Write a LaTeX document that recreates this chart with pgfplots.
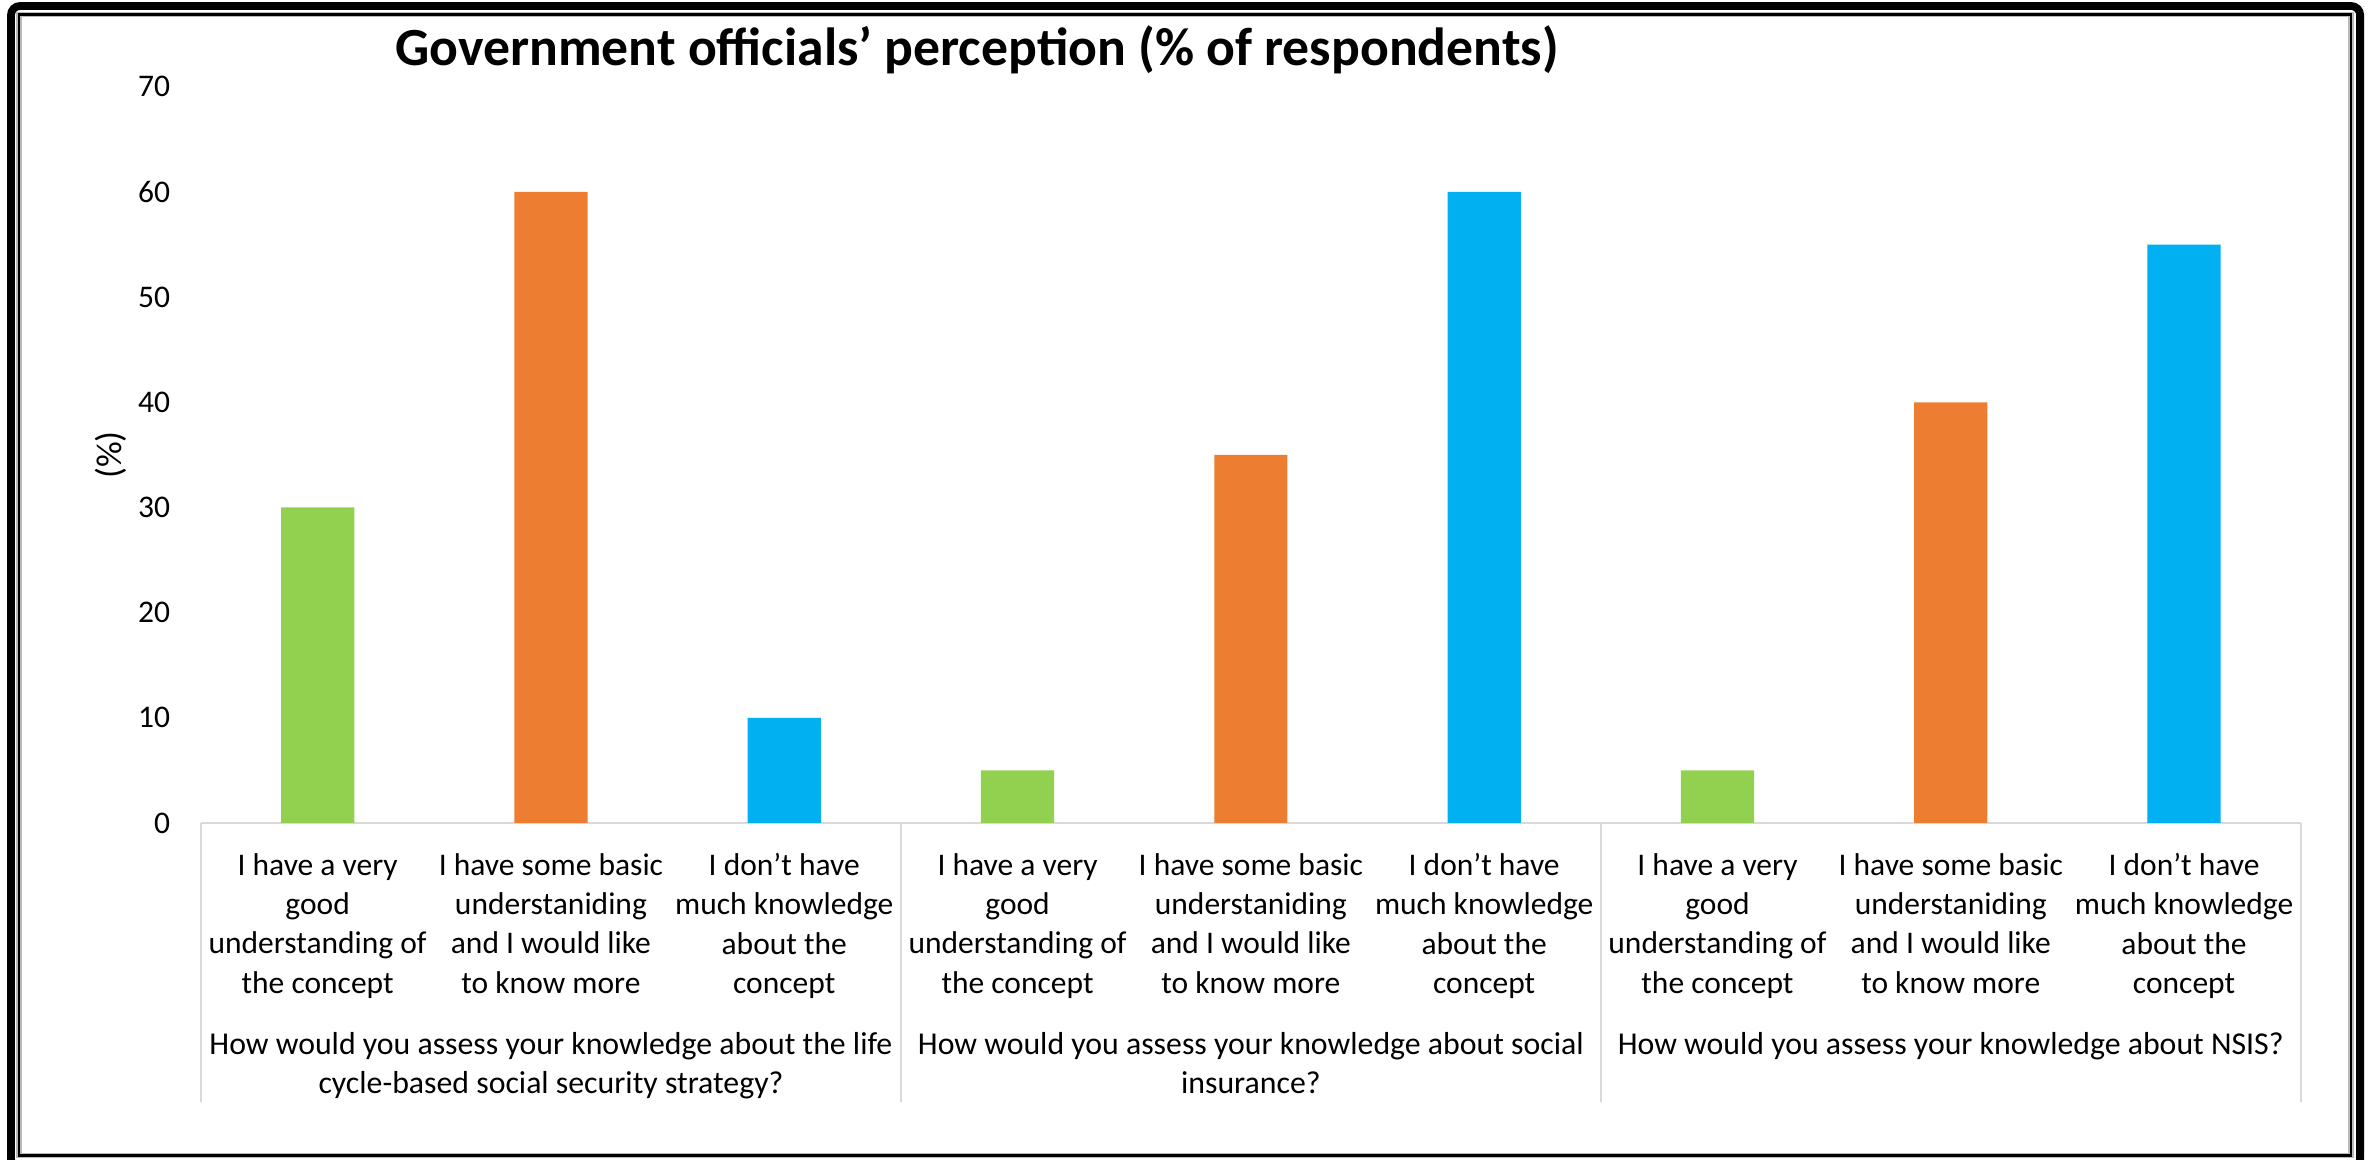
\documentclass[border=0pt]{standalone}
\usepackage{fontspec}
\setmainfont{Carlito}
\usepackage{pgfplots}
\pgfplotsset{compat=1.18}
\definecolor{barGreen}{HTML}{92D050}
\definecolor{barOrange}{HTML}{ED7D31}
\definecolor{barBlue}{HTML}{00B0F0}
\definecolor{axisGray}{HTML}{D9D9D9}

\begin{document}
\begin{tikzpicture}
\useasboundingbox (0,0) rectangle (792pt,386.33pt);
\begin{axis}[
  at={(67pt,112pt)}, anchor=south west,
  scale only axis, width=699.9pt, height=245.4pt,
  xmin=-0.5, xmax=8.5, ymin=0, ymax=70,
  ytick={0,10,...,70},
  xtick={0,...,8},
  xticklabels={
    {I have a very\\good\\understanding of\\the concept},
    {I have some basic\\understaniding\\and I would like\\to know more},
    {I don’t have\\much knowledge\\about the\\concept},
    {I have a very\\good\\understanding of\\the concept},
    {I have some basic\\understaniding\\and I would like\\to know more},
    {I don’t have\\much knowledge\\about the\\concept},
    {I have a very\\good\\understanding of\\the concept},
    {I have some basic\\understaniding\\and I would like\\to know more},
    {I don’t have\\much knowledge\\about the\\concept}},
  axis x line*=bottom, axis y line*=left,
  x axis line style={draw=axisGray, line width=0.75pt},
  y axis line style={draw=none},
  major tick length=0pt,
  tick style={draw=axisGray, line width=0.75pt},
  extra x ticks={-0.5,2.5,5.5,8.5},
  extra x tick labels={},
  extra x tick style={major tick length=92.9pt, tick align=outside},
  /pgf/number format/assume math mode=true,
  yticklabel style={font=\fontsize{10.5}{12.9}\selectfont, xshift=-6.8pt},
  xticklabel style={font=\fontsize{10.5}{13.1}\selectfont, align=center, anchor=north, inner sep=0pt, yshift=-9.9pt},
  ylabel={(\%)},
  ylabel style={font=\fontsize{12}{14}\selectfont, at={(axis description cs:-0.0429,0.5)}, anchor=center},
  clip=false,
]
\addplot[ybar, bar width=24.4pt, bar shift=0pt, fill=barGreen, draw=none]
  coordinates {(0,30) (3,5) (6,5)};
\addplot[ybar, bar width=24.4pt, bar shift=0pt, fill=barOrange, draw=none]
  coordinates {(1,60) (4,35) (7,40)};
\addplot[ybar, bar width=24.4pt, bar shift=0pt, fill=barBlue, draw=none]
  coordinates {(2,10) (5,60) (8,55)};

% question labels under each group
\begin{scope}[every node/.style={font=\fontsize{10.6}{12.9}\selectfont, align=center,
    anchor=north, inner sep=0pt}]
\node at (axis cs:1,0) [yshift=-69.6pt] {How would you assess your knowledge about the life\\cycle-based social security strategy?};
\node at (axis cs:4,0) [yshift=-69.6pt] {How would you assess your knowledge about social\\insurance?};
\node at (axis cs:7,0) [yshift=-69.6pt] {How would you assess your knowledge about NSIS?};
\end{scope}
\end{axis}

\node[anchor=base, font=\bfseries\fontsize{17.9}{21}\selectfont] at (325.7pt,364.6pt)
  {Government officials’ perception (\% of respondents)};

% frame
\begin{scope}
\clip (0,0) rectangle (792pt,386.33pt);
\draw[line width=2.6pt, rounded corners=3pt] (3.67pt,-3pt) rectangle (786.7pt,384.33pt);
\draw[gray!55, line width=1.8pt] (6.33pt,1.17pt) rectangle (783.7pt,381.5pt);
\draw[line width=0.9pt] (6.33pt,1.17pt) rectangle (783.7pt,381.5pt);
\end{scope}
\end{tikzpicture}
\end{document}
